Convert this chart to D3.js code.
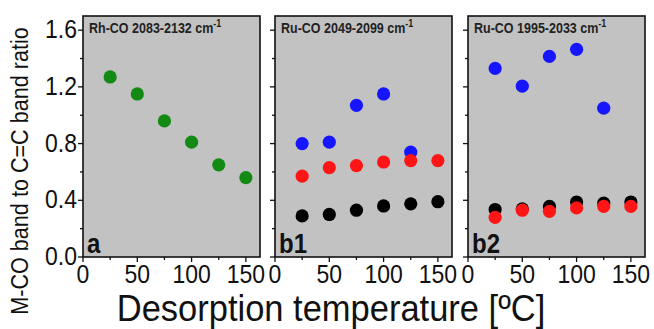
<!DOCTYPE html>
<html lang="en">
<head>
<meta charset="utf-8">
<title>M-CO band ratio</title>
<script src="https://cdn.jsdelivr.net/npm/d3@7"></script>
<style>
  body { margin: 0; background: #fff; }
  text { font-family: "Liberation Sans", Arial, sans-serif; }
</style>
</head>
<body>
<div id="chart"></div>
<script>
// temperatures (x) and ratios
const temps = [25, 50, 75, 100, 125, 150];
const rhGreen = [1.27, 1.15, 0.96, 0.81, 0.65, 0.56];
const b1Blue  = [0.80, 0.81, 1.07, 1.15, 0.74];
const b1Red   = [0.57, 0.63, 0.645, 0.67, 0.68, 0.68];
const b1Black = [0.29, 0.30, 0.33, 0.36, 0.375, 0.39];
const b2Blue  = [1.33, 1.205, 1.415, 1.465, 1.05];
const b2Black = [0.335, 0.34, 0.357, 0.388, 0.38, 0.388];
const b2Red   = [0.28, 0.33, 0.322, 0.346, 0.357, 0.357];
const panelTitles = ["Rh-CO 2083-2132 cm", "Ru-CO 2049-2099 cm", "Ru-CO 1995-2033 cm"];
const panelTags = ["a", "b1", "b2"];
const xTicks = [0, 50, 100, 150];
const yTicks = [0, 0.4, 0.8, 1.2, 1.6];

const panels = [
  { left: 83, series: [{ v: rhGreen, c: "#138a13" }] },
  { left: 275, series: [{ v: b1Blue, c: "#1515ff" }, { v: b1Red, c: "#ff1515" }, { v: b1Black, c: "#000" }] },
  { left: 468, series: [{ v: b2Blue, c: "#1515ff" }, { v: b2Black, c: "#000" }, { v: b2Red, c: "#ff1515" }] }
];

const W = 654, H = 329, pw = 177, plotTop = 16, plotBottom = 257;

const svg = d3.select("#chart").append("svg")
  .attr("width", W).attr("height", H);

// text placed at (x, y), stretched vertically a little like the figure's lettering
function label(parent, x, y, str, size, anchor, rot, stretch) {
  return parent.append("g")
    .attr("transform", `translate(${x},${y})` + (rot ? ` rotate(${rot})` : "") + ` scale(1,${stretch || 1.15})`)
    .append("text")
    .attr("text-anchor", anchor || "start")
    .attr("font-size", size).attr("fill", "#111")
    .text(str);
}

const y = d3.scaleLinear().domain([0, 1.7]).range([plotBottom, plotTop]);

panels.forEach(function(p, i) {
  const x = d3.scaleLinear().domain([0, 163]).range([p.left, p.left + pw]);
  const g = svg.append("g");

  g.append("rect")
    .attr("x", p.left).attr("y", plotTop)
    .attr("width", pw).attr("height", plotBottom - plotTop)
    .attr("fill", "#c2c2c2").attr("stroke", "#111").attr("stroke-width", 1.6);

  // y ticks (labels only on first panel)
  d3.range(0, 1.61, 0.2).forEach(function(t) {
    const major = Math.abs(t / 0.4 - Math.round(t / 0.4)) < 1e-6;
    g.append("line")
      .attr("x1", p.left).attr("x2", p.left - (major ? 5 : 3))
      .attr("y1", y(t)).attr("y2", y(t))
      .attr("stroke", "#111").attr("stroke-width", 1.3);
  });
  if (i === 0) {
    yTicks.forEach(function(d) {
      label(g, p.left - 6, y(d) + 8, d.toFixed(1), 23, "end");
    });
  }

  // x ticks
  d3.range(0, 151, 25).forEach(function(t) {
    const major = t % 50 === 0;
    g.append("line")
      .attr("x1", x(t)).attr("x2", x(t))
      .attr("y1", plotBottom).attr("y2", plotBottom + (major ? 5 : 3))
      .attr("stroke", "#111").attr("stroke-width", 1.3);
  });
  xTicks.forEach(function(d) {
    label(g, x(d), 283, d, 23, "middle");
  });

  // points
  p.series.forEach(function(s) {
    g.selectAll(null).data(s.v).enter().append("circle")
      .attr("cx", (d, j) => x(temps[j])).attr("cy", d => y(d))
      .attr("r", 6.6).attr("fill", s.c);
  });

  // panel title
  const tt = label(g, p.left + 6, plotTop + 17, "", 12.5)
    .attr("font-weight", "bold").attr("fill", "#222");
  tt.append("tspan").text(panelTitles[i]);
  tt.append("tspan").attr("dy", -5).attr("font-size", 9).text("-1");

  label(g, p.left + 4, plotBottom - 4, panelTags[i], 24).attr("font-weight", "bold");
});

label(svg, 331, 321, "Desorption temperature [ºC]", 34.5, "middle", 0, 1.05);

label(svg, 28, 171, "M-CO band to C=C band ratio", 21.6, "middle", -90);
</script>
</body>
</html>
